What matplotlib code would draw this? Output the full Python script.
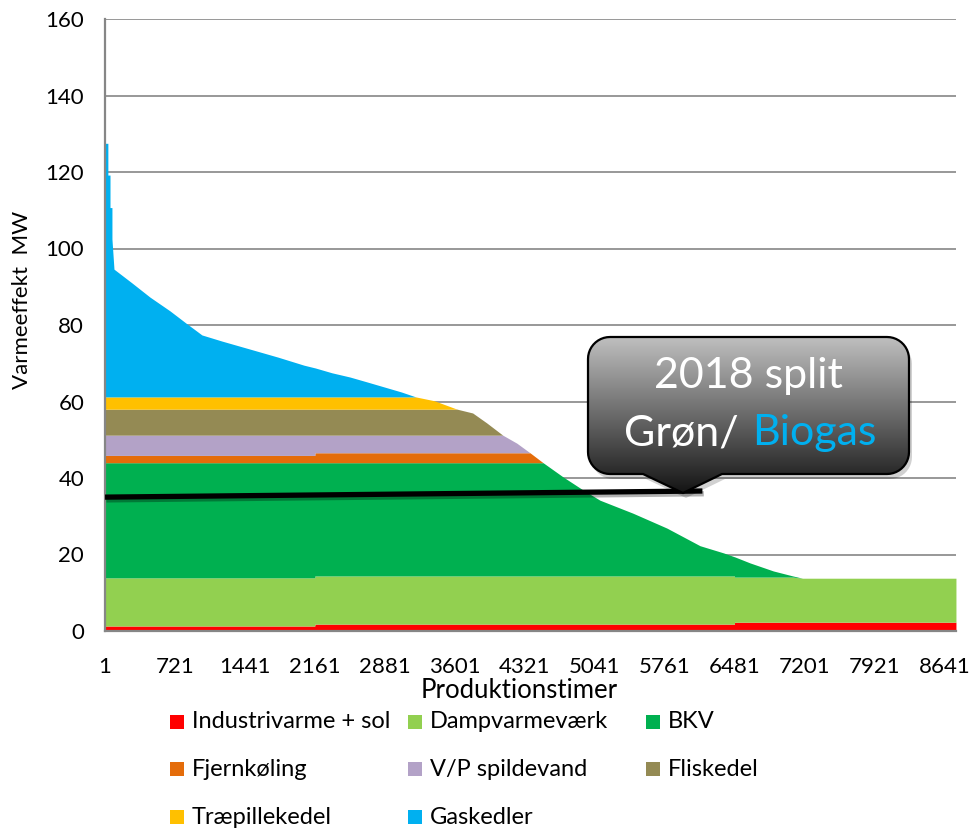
import numpy as np
import matplotlib.pyplot as plt
import matplotlib.patheffects as pe
from matplotlib.patches import Polygon, Rectangle
from matplotlib.colors import LinearSegmentedColormap

plt.rcParams['font.family'] = ['Lato', 'DejaVu Sans']

#%% data
# sorted heat load (duration curve): hour -> total MW
hours = [1, 30, 30, 52, 52, 72, 72, 93, 278, 463, 669, 834, 998, 1204, 1493,
         1781, 2048, 2160, 2161, 2337, 2522, 2700, 3050, 3200, 3390, 3624,
         3785, 3930, 4095, 4240, 4375, 4510, 4715, 4920, 5095, 5435, 5785,
         6125, 6370, 6480, 6481, 6640, 6880, 7080, 7180, 8760]
total_mw = [127.5, 127.5, 119.2, 119.2, 110.7, 110.7, 102.5, 94.6, 91.0, 87.3,
            83.7, 80.5, 77.4, 75.8, 73.7, 71.6, 69.5, 68.8, 68.8, 67.5, 66.4,
            65.1, 62.5, 61.2, 60.2, 58.0, 57.0, 54.4, 51.2, 49.1, 46.6, 44.0,
            40.3, 36.9, 34.2, 30.8, 26.9, 22.3, 20.4, 19.4, 19.4, 17.8, 15.7,
            14.4, 13.8, 13.8]

# capacity of each unit (MW) in the three periods starting at these hours
period_start = [1, 2161, 6481]
units = ['Industrivarme + sol', 'Dampvarmeværk', 'BKV', 'Fjernkøling',
         'V/P spildevand', 'Fliskedel', 'Træpillekedel', 'Gaskedler']
unit_cap = [[1.3, 1.8, 2.3],
            [12.6, 12.6, 11.8],
            [30.1, 29.6, 29.9],
            [1.9, 2.6, 2.6],
            [5.3, 4.6, 4.6],
            [6.8, 6.8, 6.8],
            [3.2, 3.2, 3.2],
            [200.0, 200.0, 200.0]]
unit_colors = ['#ff0000', '#92d050', '#00b050', '#e46c0a',
               '#b3a2c7', '#948a54', '#ffc000', '#00b0f0']

xtick_vals = [1, 721, 1441, 2161, 2881, 3601, 4321, 5041, 5761, 6481, 7201, 7921, 8641]

# hand drawn "split" line
split_hours = [1, 6150]
split_mw = [35.0, 36.6]

#%% figure
fig = plt.figure(figsize=(9.72, 8.31), dpi=100)
ax = fig.add_axes([105/972, 1-631/831, 851/972, 612/831])

h = np.array(hours, dtype=float)
tot = np.array(total_mw)
period_idx = np.searchsorted(period_start, h, side='right') - 1

lower = np.zeros_like(tot)
for name, cap, col in zip(units, unit_cap, unit_colors):
    cap_here = np.array(cap)[period_idx]
    val = np.minimum(cap_here, np.maximum(tot - lower, 0))
    ax.fill_between(h, lower, lower + val, color=col, lw=0, zorder=2)
    lower = lower + val

ax.plot(split_hours, split_mw, color='black', lw=3.8, solid_capstyle='butt', zorder=4,
        path_effects=[pe.SimpleLineShadow(offset=(1, -2), alpha=0.3), pe.Normal()])

ax.set_xlim(0.5, 8760.5)
ax.set_ylim(0, 160)
ax.set_yticks(range(0, 161, 20))
ax.set_xticks(xtick_vals)
ax.set_xticklabels([str(v) for v in xtick_vals])
ax.tick_params(length=0, labelsize=16)
ax.tick_params(axis='y', pad=15)
ax.tick_params(axis='x', pad=19)
ax.yaxis.grid(True, color='#868686', lw=1.2)
ax.set_axisbelow(True)
for s in ['top', 'right']:
    ax.spines[s].set_visible(False)
for s in ['left', 'bottom']:
    ax.spines[s].set_color('#868686')
    ax.spines[s].set_linewidth(1.6)
    ax.spines[s].set_zorder(3)

ax.set_xlabel('Produktionstimer', fontsize=18.5)
ax.xaxis.label.set_va('center')
ax.xaxis.set_label_coords(0.4865, -0.098)
ax.set_ylabel('Varmeeffekt  MW', fontsize=16)
ax.yaxis.label.set_va('center')
ax.yaxis.set_label_coords(-0.0975, 0.541)

#%% overlay in pixel coordinates: callout and legend
ov = fig.add_axes([0, 0, 1, 1], zorder=5)
ov.set_xlim(0, 972)
ov.set_ylim(831, 0)
ov.axis('off')

# callout outline: rounded box with a pointer at the bottom
bx0, bx1, by0, by1, r = 588, 909, 337, 474, 22
pointer = [(722, by1), (683, 493), (643, by1)]
pts = []
for cx, cy, a0 in [(bx1 - r, by0 + r, -90), (bx1 - r, by1 - r, 0),
                   (bx0 + r, by1 - r, 90), (bx0 + r, by0 + r, 180)]:
    ang = np.radians(np.linspace(a0, a0 + 90, 12))
    pts += list(zip(cx + r*np.cos(ang), cy + r*np.sin(ang)))
    if a0 == 0:
        pts += pointer
outline = np.array(pts)

shadow = Polygon(outline + [3, 5], closed=True, color='black', alpha=0.18, lw=0)
ov.add_patch(shadow)
body = Polygon(outline, closed=True, facecolor='none', edgecolor='black', lw=1.6)
ov.add_patch(body)
grad_cmap = LinearSegmentedColormap.from_list('g', ['#bfbfbf', '#6a6a6a', '#141414'])
grad = ov.imshow(np.linspace(0, 1, 256).reshape(-1, 1), cmap=grad_cmap, aspect='auto',
                 extent=(bx0, bx1, 493, by0), zorder=1)
grad.set_clip_path(body)
body.set_zorder(2)

ov.text(748, 376, '2018 split', color='white', fontsize=31, ha='center', va='center', zorder=3)
ov.text(739, 433, 'Grøn/', color='white', fontsize=31, ha='right', va='center', zorder=3)
ov.text(752, 433, 'Biogas', color='#00b0f0', fontsize=31, ha='left', va='center', zorder=3)

# legend, three columns filled row by row like Excel
leg_cols = [170, 408, 646]
leg_rows = [722, 769, 817]
for i, (name, col) in enumerate(zip(units, unit_colors)):
    x = leg_cols[i % 3]
    y = leg_rows[i // 3]
    ov.add_patch(Rectangle((x, y - 7), 14, 14, color=col, lw=0))
    ov.text(x + 22, y, name, fontsize=17, va='center', ha='left')

fig.savefig('out.png', dpi=100)
